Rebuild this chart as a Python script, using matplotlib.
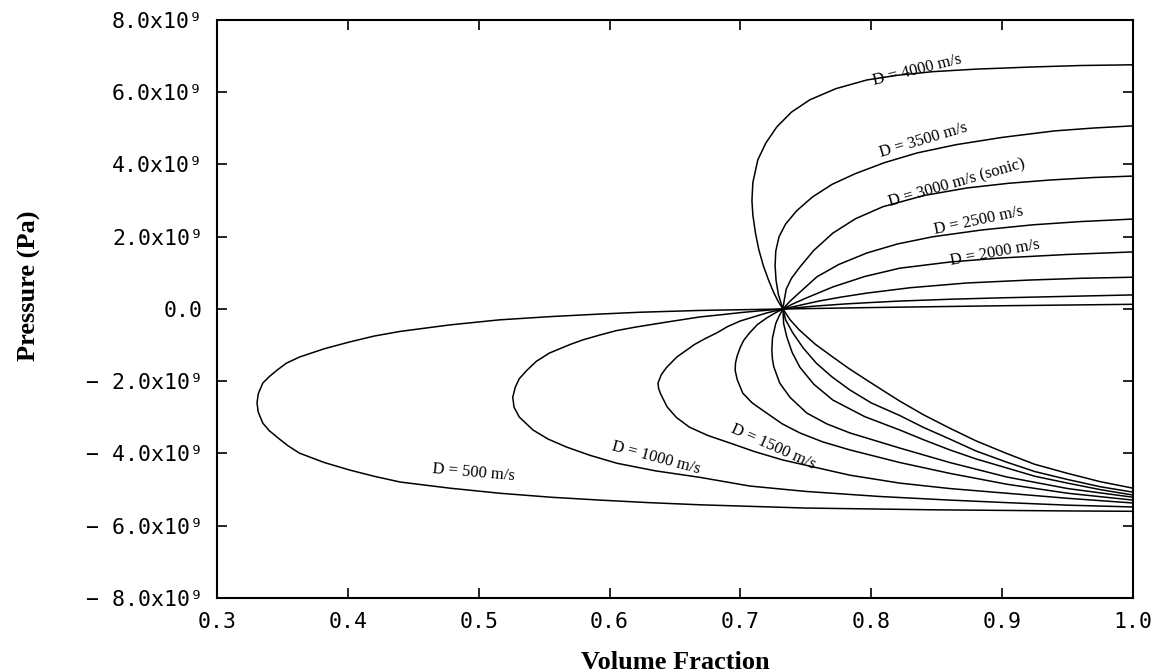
import matplotlib
matplotlib.use("Agg")
import matplotlib.pyplot as plt
import numpy as np

# Curves: volume fraction (x) and pressure in units of 1e9 Pa (p),
# each traced from its upper end at x = 1.0, through the common point, to the lower end
d500_x = [1.0, 0.9, 0.8, 0.7325, 0.669, 0.623, 0.5926, 0.555, 0.516, 0.478, 0.44, 0.42,
          0.4016, 0.382, 0.363, 0.353, 0.346, 0.34, 0.335, 0.3315, 0.3306, 0.3315, 0.335,
          0.34, 0.346, 0.354, 0.363, 0.382, 0.4016, 0.42, 0.44, 0.478, 0.516, 0.555,
          0.5926, 0.63, 0.669, 0.75, 0.85, 0.95, 1.0]
d500_p = [0.13, 0.09, 0.04, 0.0, -0.04, -0.09, -0.14, -0.21, -0.30, -0.44, -0.62, -0.75,
          -0.91, -1.10, -1.33, -1.50, -1.69, -1.87, -2.05, -2.35, -2.60, -2.85, -3.16,
          -3.37, -3.55, -3.78, -3.99, -4.25, -4.46, -4.63, -4.79, -4.96, -5.10, -5.21,
          -5.29, -5.36, -5.42, -5.51, -5.56, -5.59, -5.60]

d1000_x = [1.0, 0.95, 0.9, 0.86, 0.8218, 0.80, 0.78, 0.757, 0.7325, 0.715, 0.70, 0.685,
           0.669, 0.644, 0.62, 0.605, 0.5926, 0.58, 0.57, 0.554, 0.544, 0.537, 0.531,
           0.528, 0.526, 0.527, 0.531, 0.5415, 0.553, 0.567, 0.585, 0.6056, 0.635, 0.669,
           0.707, 0.75, 0.8065, 0.86, 0.9035, 0.95, 1.0]
d1000_p = [0.39, 0.35, 0.31, 0.27, 0.22, 0.18, 0.14, 0.08, 0.0, -0.05, -0.10, -0.16,
           -0.22, -0.36, -0.50, -0.60, -0.72, -0.85, -0.98, -1.22, -1.45, -1.69, -1.93,
           -2.16, -2.44, -2.72, -2.99, -3.35, -3.60, -3.82, -4.05, -4.27, -4.48, -4.66,
           -4.90, -5.05, -5.19, -5.29, -5.36, -5.43, -5.48]

d1500_x = [1.0, 0.96, 0.92, 0.873, 0.83, 0.7966, 0.777, 0.76, 0.745, 0.7325, 0.72, 0.70,
           0.69, 0.682, 0.673, 0.665, 0.6514, 0.6435, 0.6395, 0.637, 0.6375, 0.639, 0.644,
           0.651, 0.661, 0.675, 0.692, 0.711, 0.7324, 0.7836, 0.8218, 0.86, 0.9035, 0.95, 1.0]
d1500_p = [0.88, 0.85, 0.80, 0.72, 0.59, 0.44, 0.33, 0.22, 0.10, 0.0, -0.11, -0.33,
           -0.49, -0.66, -0.82, -0.98, -1.33, -1.62, -1.82, -2.05, -2.20, -2.35, -2.71,
           -3.00, -3.27, -3.50, -3.71, -3.95, -4.18, -4.60, -4.82, -4.97, -5.10, -5.24, -5.37]

d2000_x = [1.0, 0.95, 0.898, 0.86, 0.8218, 0.795, 0.7706, 0.76, 0.75, 0.74, 0.7325, 0.727,
           0.720, 0.713, 0.707, 0.7025, 0.700, 0.6975, 0.6962, 0.696, 0.6975, 0.7018, 0.709,
           0.720, 0.732, 0.7454, 0.763, 0.7836, 0.8218, 0.86, 0.9035, 0.95, 1.0]
d2000_p = [1.58, 1.51, 1.41, 1.30, 1.13, 0.90, 0.61, 0.45, 0.30, 0.14, 0.0, -0.10,
           -0.25, -0.43, -0.66, -0.87, -1.05, -1.30, -1.50, -1.70, -1.95, -2.33, -2.60,
           -2.88, -3.18, -3.43, -3.68, -3.90, -4.25, -4.55, -4.85, -5.10, -5.29]

d2500_x = [1.0, 0.96, 0.9234, 0.885, 0.847, 0.82, 0.7966, 0.775, 0.7584, 0.745, 0.738,
           0.7325, 0.7295, 0.727, 0.7245, 0.724, 0.7245, 0.7255, 0.730, 0.738, 0.7507,
           0.766, 0.7836, 0.8218, 0.86, 0.9035, 0.95, 1.0]
d2500_p = [2.49, 2.42, 2.33, 2.19, 2.00, 1.80, 1.55, 1.23, 0.89, 0.45, 0.22,
           0.0, -0.20, -0.40, -0.80, -1.14, -1.40, -1.60, -2.05, -2.45, -2.88,
           -3.18, -3.43, -3.85, -4.25, -4.65, -4.97, -5.21]

d3000_x = [1.0, 0.97, 0.9364, 0.905, 0.873, 0.84, 0.8088, 0.788, 0.7706, 0.756, 0.7454,
           0.739, 0.735, 0.7335, 0.7325, 0.733, 0.7355, 0.7395, 0.7454, 0.756, 0.7706,
           0.795, 0.8218, 0.84, 0.86, 0.88, 0.9035, 0.925, 0.95, 0.975, 1.0]
d3000_p = [3.68, 3.64, 3.57, 3.48, 3.35, 3.14, 2.83, 2.50, 2.10, 1.62, 1.16,
           0.85, 0.55, 0.25, 0.0, -0.40, -0.78, -1.20, -1.61, -2.08, -2.52,
           -2.98, -3.35, -3.62, -3.90, -4.15, -4.40, -4.63, -4.82, -5.00, -5.15]

d3500_x = [1.0, 0.97, 0.94, 0.9, 0.865, 0.835, 0.81, 0.788, 0.77, 0.755, 0.743, 0.7345,
           0.7295, 0.727, 0.7265, 0.7272, 0.729, 0.7325, 0.7345, 0.740, 0.748, 0.758,
           0.77, 0.7836, 0.80, 0.8218, 0.84, 0.86, 0.88, 0.9035, 0.925, 0.95, 0.975, 1.0]
d3500_p = [5.07, 5.01, 4.93, 4.75, 4.55, 4.32, 4.05, 3.75, 3.45, 3.10, 2.72, 2.35,
           2.00, 1.60, 1.20, 0.80, 0.40, 0.0, -0.30, -0.66, -1.08, -1.50,
           -1.88, -2.24, -2.60, -2.95, -3.28, -3.60, -3.93, -4.24, -4.50, -4.72, -4.92, -5.07]

d4000_x = [1.0, 0.96, 0.9234, 0.88, 0.847, 0.82, 0.7966, 0.773, 0.753, 0.739, 0.7278,
           0.7195, 0.7133, 0.7095, 0.7088, 0.7095, 0.7115, 0.714, 0.7175, 0.7215, 0.7255,
           0.729, 0.7325, 0.738, 0.745, 0.757, 0.7706, 0.783, 0.7966, 0.81, 0.8218, 0.84,
           0.86, 0.88, 0.9035, 0.925, 0.95, 0.975, 1.0]
d4000_p = [6.76, 6.74, 6.70, 6.64, 6.57, 6.47, 6.34, 6.10, 5.79, 5.45, 5.04,
           4.60, 4.13, 3.50, 3.00, 2.60, 2.10, 1.65, 1.20, 0.80, 0.45,
           0.20, 0.0, -0.30, -0.58, -0.97, -1.33, -1.65, -1.97, -2.28, -2.55, -2.93,
           -3.30, -3.65, -4.00, -4.30, -4.55, -4.78, -4.96]

# curve labels: text, x, p (1e9 Pa), rotation
label_text = ["D = 4000 m/s", "D = 3500 m/s", "D = 3000 m/s (sonic)", "D = 2500 m/s",
              "D = 2000 m/s", "D = 500 m/s", "D = 1000 m/s", "D = 1500 m/s"]
label_x = [0.8348, 0.840, 0.8653, 0.8821, 0.8943, 0.4963, 0.6354, 0.7248]
label_p = [6.62, 4.68, 3.49, 2.44, 1.55, -4.52, -4.13, -3.82]
label_rot = [14, 16.5, 16, 12, 10.5, -5, -15, -24]

xticks = [0.3, 0.4, 0.5, 0.6, 0.7, 0.8, 0.9, 1.0]
xtick_labels = ["0.3", "0.4", "0.5", "0.6", "0.7", "0.8", "0.9", "1.0"]
yticks = [8, 6, 4, 2, 0, -2, -4, -6, -8]
ytick_labels = ["8.0x10⁹", "6.0x10⁹", "4.0x10⁹", "2.0x10⁹", "0.0",
                "\u2212 2.0x10⁹", "\u2212 4.0x10⁹", "\u2212 6.0x10⁹", "\u2212 8.0x10⁹"]

curves = [(d500_x, d500_p), (d1000_x, d1000_p), (d1500_x, d1500_p), (d2000_x, d2000_p),
          (d2500_x, d2500_p), (d3000_x, d3000_p), (d3500_x, d3500_p), (d4000_x, d4000_p)]

fig = plt.figure(figsize=(11.54, 6.72), dpi=100)
ax = fig.add_axes([217 / 1154, 1 - 598 / 672, (1133 - 217) / 1154, (598 - 20) / 672])

for cx, cp in curves:
    ax.plot(cx, np.array(cp) * 1e9, color="black", lw=1.1)

for t, lx, lp, r in zip(label_text, label_x, label_p, label_rot):
    ax.text(lx, lp * 1e9, t, rotation=r, rotation_mode="anchor", ha="center", va="center",
            fontsize=12, family="Liberation Serif")

ax.set_xlim(0.3, 1.0)
ax.set_ylim(-8e9, 8e9)
ax.set_xticks(xticks)
ax.set_xticklabels(xtick_labels)
ax.set_yticks(np.array(yticks) * 1e9)
ax.set_yticklabels(ytick_labels)
ax.tick_params(direction="in", length=7, width=1.2, top=True, right=True, pad=10,
               labelsize=15.5)
for lab in ax.get_xticklabels() + ax.get_yticklabels():
    lab.set_family("DejaVu Sans Mono")
for s in ax.spines.values():
    s.set_linewidth(1.5)

fig.text(29 / 1154, 1 - 286 / 672, "Pressure (Pa)", rotation=90, ha="center", va="center",
         fontsize=19, fontweight="bold", family="Liberation Serif")
fig.text(675 / 1154, 1 - 651 / 672, "Volume Fraction", ha="center", va="top",
         fontsize=19, fontweight="bold", family="Liberation Serif")

fig.savefig("out.png", dpi=100)
